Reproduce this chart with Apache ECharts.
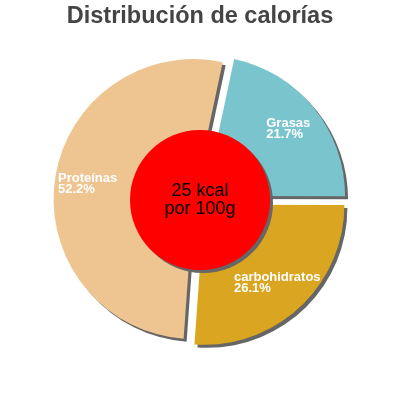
<!DOCTYPE html>
<html>
<head>
<meta charset="utf-8">
<script src="https://cdn.jsdelivr.net/npm/echarts/dist/echarts.min.js"></script>
<style>
html, body { margin: 0; padding: 0; background: #fff; }
#c { width: 400px; height: 400px; }
</style>
</head>
<body>
<div id="c"></div>
<script>
const titleText = 'Distribución de calorías';
const categories = ['Grasas', 'carbohidratos', 'Proteínas'];
const values = [21.7, 26.1, 52.2];
const energyLines = ['25 kcal', 'por 100g'];

const sliceColors = ['#7AC5CD', '#DAA520', '#EEC591'];
const FONT = 'Liberation Sans, Arial, sans-serif';

const chart = echarts.init(document.getElementById('c'), null, { renderer: 'canvas' });

const pieData = categories.map((n, i) => ({
  name: n,
  value: values[i],
  selected: true,
  itemStyle: { color: sliceColors[i] }
}));

const labelData = categories.map((n, i) => ({
  name: n,
  value: values[i],
  selected: true
}));

const common = {
  type: 'pie',
  center: [200, 200],
  startAngle: 78,
  clockwise: true,
  selectedMode: 'multiple',
  selectedOffset: 6.5,
  silent: true,
  animation: false,
  avoidLabelOverlap: false,
  emphasis: { disabled: true },
  labelLine: { show: false }
};

chart.setOption({
  animation: false,
  title: {
    text: titleText,
    left: 'center',
    top: 0,
    textStyle: { fontSize: 23.5, fontWeight: 'bold', color: '#444', fontFamily: FONT }
  },
  series: [
    Object.assign({}, common, {
      radius: [0, 140],
      data: pieData,
      label: { show: false },
      itemStyle: {
        borderWidth: 0,
        shadowColor: '#666',
        shadowOffsetX: 3,
        shadowOffsetY: 3,
        shadowBlur: 0
      }
    }),
    Object.assign({}, common, {
      radius: [68, 140],
      data: labelData,
      itemStyle: { color: 'rgba(0,0,0,0)', borderWidth: 0 },
      label: {
        show: true,
        position: 'inside',
        formatter: p => '{a|' + p.name + '}\n{a|' + p.value.toFixed(1) + '%}',
        rich: {
          a: { fontSize: 13, fontWeight: 'bold', lineHeight: 11, color: '#fff', align: 'left', fontFamily: FONT }
        }
      }
    }),
    {
      type: 'pie',
      center: [200, 200],
      radius: [0, 70],
      silent: true,
      animation: false,
      emphasis: { disabled: true },
      data: [{ name: 'energy', value: 1 }],
      itemStyle: {
        color: '#FF0000',
        borderWidth: 0,
        shadowColor: '#666',
        shadowOffsetX: 3,
        shadowOffsetY: 3,
        shadowBlur: 0
      },
      labelLine: { show: false },
      label: {
        show: true,
        position: 'center',
        formatter: energyLines.join('\n'),
        fontSize: 18,
        lineHeight: 18,
        color: '#000',
        fontFamily: FONT
      }
    }
  ]
});
</script>
</body>
</html>
